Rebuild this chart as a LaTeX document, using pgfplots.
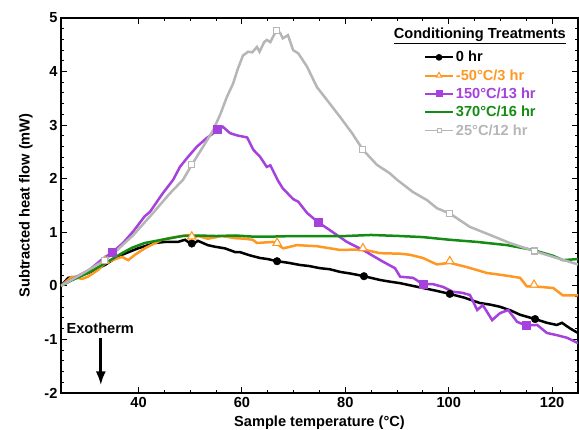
\documentclass[border=0pt]{standalone}
\usepackage{pgfplots}
\pgfplotsset{compat=1.18}
\usetikzlibrary{arrows.meta}
\usepackage{fontspec}
\setmainfont{Liberation Sans}
\definecolor{cblack}{RGB}{0,0,0}
\definecolor{corange}{RGB}{255,152,35}
\definecolor{cpurple}{RGB}{165,65,220}
\definecolor{cgreen}{RGB}{20,140,20}
\definecolor{cgrey}{RGB}{182,182,182}
\newcommand{\fs}{\fontsize{14.6}{17}\selectfont\bfseries}
\begin{document}
\begin{tikzpicture}
\begin{axis}[
  name=ax,
  scale only axis, width=517pt, height=375pt,
  xmin=25, xmax=125, ymin=-2, ymax=5,
  xtick={40,60,80,100,120}, ytick={-2,-1,0,1,2,3,4,5},
  minor x tick num=3, minor y tick num=4,
  tick align=inside,
  major tick length=6pt, minor tick length=3pt,
  every tick/.style={black, line width=1pt},
  axis line style={line width=1.2pt},
  /pgf/number format/assume math mode=true,
  tick label style={font=\fs},
  xticklabel style={yshift=-1pt},
  label style={font=\fs},
  xlabel={Sample temperature (°C)},
  ylabel={Subtracted heat flow (mW)},
  xlabel style={yshift=-1pt},
  ylabel style={yshift=5pt},
  legend style={at={(rel axis cs:0.702,0.917)}, anchor=north west, draw=none, fill=none,
    font=\fs, row sep=2.2pt, inner sep=0pt},
  legend cell align=left,
  legend image code/.code={\draw[mark repeat=2,mark phase=2] plot coordinates {(0pt,0pt)(14pt,0pt)(28pt,0pt)};},
]
% 0 hr
\addplot[cblack, line width=2.5pt, forget plot] coordinates {
(25,0)(26.4,0.15)(28.3,0.17)(30.2,0.24)(32.2,0.33)(33.5,0.39)(34.9,0.48)(36.8,0.58)(39.9,0.7)(43.2,0.8)(45.1,0.82)(47.6,0.82)(49,0.86)(50.3,0.77)(51.5,0.84)(53.4,0.76)(54.8,0.73)(56.7,0.7)(58.7,0.63)(59.6,0.63)(61.5,0.57)(63.5,0.52)(65,0.5)(66.8,0.46)(69,0.43)(71.2,0.39)(73,0.37)(75.1,0.33)(77,0.31)(79,0.26)(81,0.23)(83.6,0.18)(86.7,0.11)(88.5,0.08)(90.6,0.05)(93,0.0)(95,-0.04)(97.5,-0.09)(100.2,-0.15)(103,-0.22)(106,-0.32)(108,-0.35)(109.9,-0.39)(112,-0.46)(113.8,-0.54)(116.7,-0.62)(119,-0.69)(120.9,-0.73)(121.9,-0.69)(123.4,-0.79)(125,-0.88)};
\addplot[only marks, mark=*, mark size=3.8pt, cblack, forget plot] coordinates {
(50.3,0.79)(66.8,0.46)(83.6,0.18)(100.2,-0.15)(116.7,-0.62)};
% -50C/3 hr
\addplot[corange, line width=2.5pt, forget plot] coordinates {
(25,0)(27.1,0.17)(29.1,0.13)(30.2,0.17)(32.2,0.3)(33.5,0.42)(34.9,0.48)(36.8,0.54)(38,0.48)(39.3,0.58)(41.2,0.7)(44.5,0.86)(46.5,0.9)(48.4,0.93)(49.6,0.95)(50.3,0.89)(51.5,0.93)(53.4,0.88)(56.1,0.93)(58.7,0.89)(60.5,0.88)(62.1,0.86)(62.9,0.8)(66,0.82)(66.8,0.78)(68,0.7)(70.6,0.76)(74.5,0.74)(79,0.67)(83.4,0.68)(86.7,0.61)(90.6,0.6)(92.5,0.58)(95,0.52)(97.7,0.4)(100.2,0.43)(103.5,0.35)(107.4,0.24)(110.5,0.2)(113.8,0.15)(115.1,-0.01)(116.5,-0.01)(120.2,-0.04)(122.1,-0.18)(125,-0.18)};
\addplot[only marks, mark=triangle*, mark size=4.8pt, corange, mark options={fill=white, line width=1.1pt}, forget plot] coordinates {
(33.5,0.47)(50.3,0.92)(66.8,0.80)(83.4,0.70)(100.2,0.46)(116.5,0.02)};
% 150C/13 hr
\addplot[cpurple, line width=2.5pt, forget plot] coordinates {
(25,0)(28,0.17)(30.5,0.3)(33,0.5)(35,0.63)(37,0.8)(39,1.02)(41.2,1.3)(42.2,1.38)(44.7,1.73)(46.7,1.98)(48,2.22)(49.5,2.4)(51.3,2.6)(53.2,2.76)(55.2,2.9)(56.3,2.97)(57.7,2.85)(59,2.81)(61,2.77)(62.2,2.54)(63.5,2.41)(64.8,2.22)(65.5,2.25)(67,1.96)(67.9,1.82)(69.9,1.62)(70.9,1.57)(72.6,1.36)(74.7,1.19)(77,1.04)(80.3,0.82)(83.4,0.67)(87.3,0.45)(89.6,0.33)(90.6,0.17)(93.1,0.15)(95,0.03)(97,0.03)(98.9,-0.02)(100.8,-0.11)(102.6,-0.13)(104.1,-0.17)(105.5,-0.45)(106.6,-0.36)(108.4,-0.64)(109.9,-0.51)(111.5,-0.45)(113.2,-0.67)(114.9,-0.74)(117.1,-0.73)(119,-0.88)(120.9,-0.92)(122.9,-0.97)(125,-1.07)};
\addplot[only marks, mark=square*, mark size=4pt, cpurple, forget plot] coordinates {
(35,0.63)(55.2,2.92)(74.7,1.19)(95,0.03)(114.9,-0.74)};
% 370C/16 hr
\addplot[cgreen, line width=2.5pt, forget plot] coordinates {
(25,0)(27,0.1)(30.2,0.24)(33.5,0.42)(36.8,0.61)(38.7,0.71)(41.2,0.8)(44.5,0.86)(48.4,0.93)(51.5,0.94)(55,0.93)(58.7,0.94)(62,0.92)(66,0.92)(70,0.93)(75,0.93)(80,0.93)(85,0.95)(90.6,0.93)(95,0.91)(100.2,0.86)(105.5,0.82)(111.3,0.76)(116.3,0.67)(120.2,0.56)(122.1,0.48)(125,0.5)};
% 25C/12 hr
\addplot[cgrey, line width=2.5pt, forget plot] coordinates {
(25,0)(29,0.22)(33.5,0.48)(36,0.68)(39,0.95)(42.8,1.36)(46,1.72)(48.6,1.98)(50.3,2.26)(52.5,2.6)(54.4,2.9)(55.8,3.2)(57.1,3.53)(58.3,3.78)(59.2,4.05)(60.2,4.3)(61.2,4.37)(62,4.36)(62.9,4.46)(63.4,4.37)(64.3,4.55)(64.8,4.59)(65.5,4.55)(66.6,4.76)(67.4,4.72)(67.9,4.62)(68.9,4.68)(69.9,4.4)(70.9,4.34)(72.6,4.09)(74.5,3.71)(77,3.4)(79,3.15)(81.3,2.85)(83.4,2.54)(86.1,2.26)(88.6,2.1)(90,1.98)(93.1,1.75)(95.8,1.6)(97.7,1.45)(100.2,1.35)(104.1,1.1)(108,0.95)(111.8,0.8)(116.5,0.65)(120.9,0.52)(125,0.4)};
\addplot[only marks, mark=square*, mark size=3pt, cgrey, mark options={fill=white, line width=1.1pt}, forget plot] coordinates {
(33.5,0.48)(50.3,2.26)(66.6,4.76)(83.4,2.54)(100.2,1.35)(116.5,0.65)};
% legend
\addlegendimage{cblack, line width=1.8pt, mark=*, mark size=2.4pt}
\addlegendentry{\textcolor{cblack}{0 hr}}
\addlegendimage{corange, line width=1.8pt, mark=triangle*, mark size=3.2pt, mark options={fill=white, line width=1pt}}
\addlegendentry{\textcolor{corange}{-50°C/3 hr}}
\addlegendimage{cpurple, line width=1.8pt, mark=square*, mark size=2.6pt}
\addlegendentry{\textcolor{cpurple}{150°C/13 hr}}
\addlegendimage{cgreen, line width=1.8pt}
\addlegendentry{\textcolor{cgreen}{370°C/16 hr}}
\addlegendimage{cgrey, line width=1.8pt, mark=square*, mark size=2pt, mark options={fill=white, line width=1pt}}
\addlegendentry{\textcolor{cgrey}{25°C/12 hr}}
\node[font=\fs] at (rel axis cs:0.81,0.953) {\underline{Conditioning Treatments}};
\node[font=\fs] at (axis cs:32.6,-0.79) {Exotherm};
\draw[black, line width=3pt, -{Latex[length=14pt,width=10pt]}] (axis cs:32.7,-0.97) -- (axis cs:32.7,-1.86);
\end{axis}
\pgfresetboundingbox
\path[use as bounding box] ([xshift=-61pt,yshift=-37pt]ax.south west) rectangle ([xshift=1pt,yshift=18pt]ax.north east);
\end{tikzpicture}
\end{document}
